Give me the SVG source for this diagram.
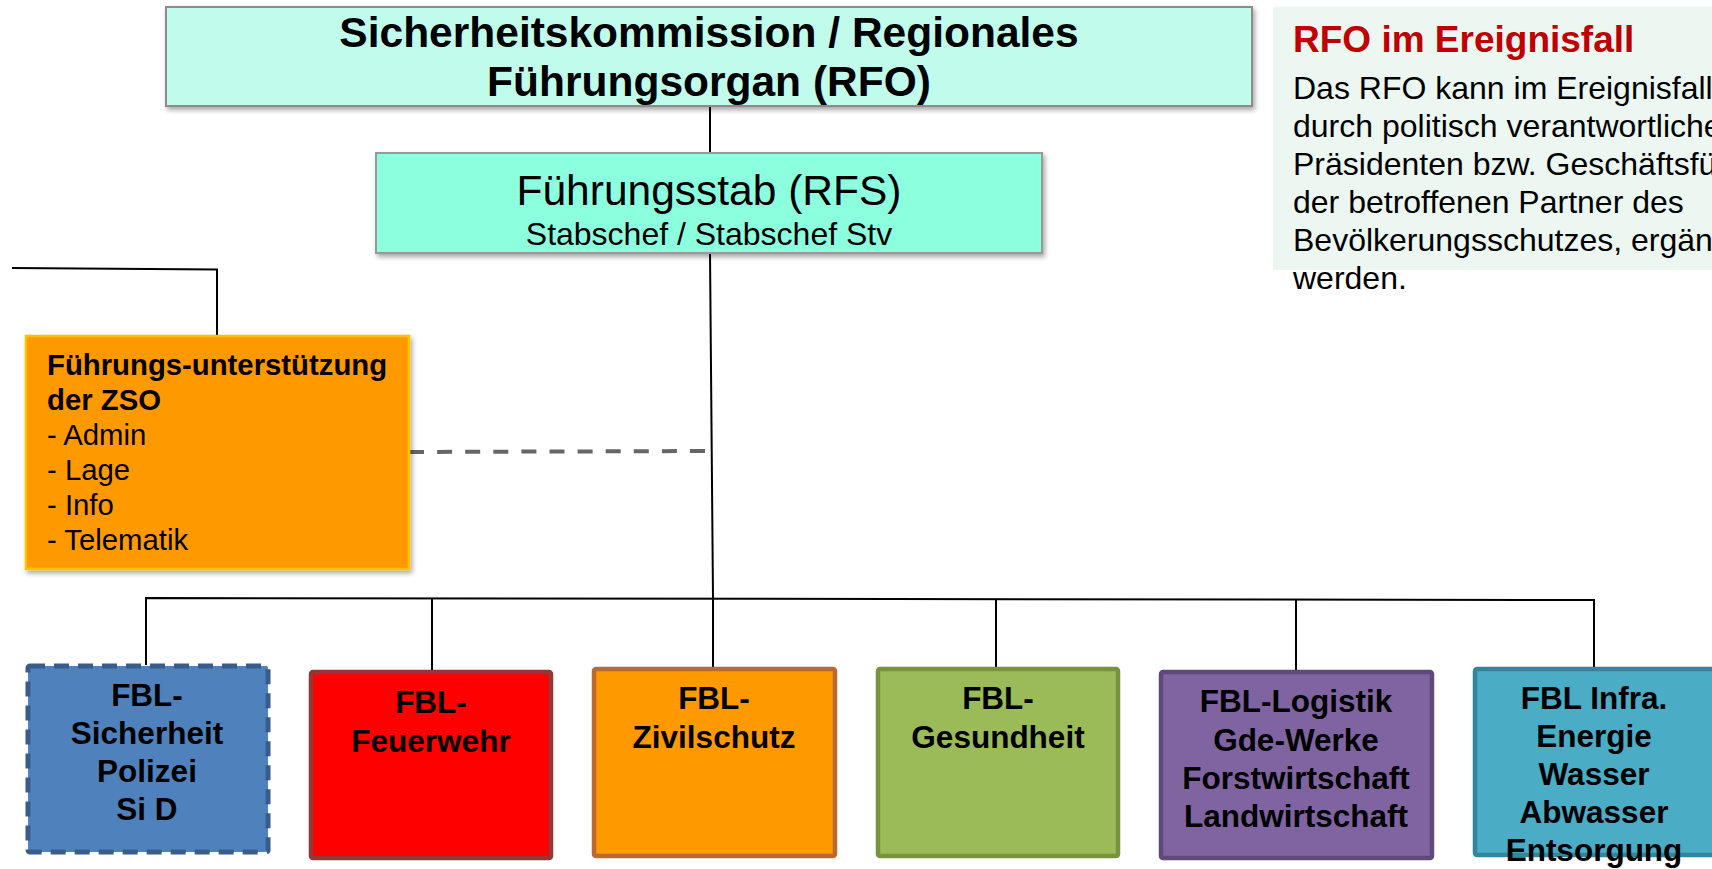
<svg xmlns="http://www.w3.org/2000/svg" width="1712" height="869" viewBox="0 0 1712 869">
<defs>
<filter id="sh" x="-10%" y="-10%" width="130%" height="130%">
<feDropShadow dx="2" dy="3" stdDeviation="2.5" flood-color="#000" flood-opacity="0.35"/>
</filter>
<style>
text{font-family:"Liberation Sans",Arial,sans-serif;fill:#000}
.b{font-weight:bold}
.fbl{font-weight:bold;font-size:31.5px;text-anchor:middle}
.ln{stroke:#000;stroke-width:2;fill:none}
.box{stroke-width:4.5}
.body{font-size:32px}
</style>
</defs>
<rect width="1712" height="869" fill="#fff"/>

<g id="connectors">
<polyline class="ln" points="710,106 710,153"/>
<polyline class="ln" points="710,253 713,598"/>
<polyline class="ln" points="12,268 217,269.5 217,336"/>
<line x1="409" y1="452" x2="705" y2="451" stroke="#666" stroke-width="4" stroke-dasharray="15 13.1"/>
<polyline class="ln" points="146,665 146,598 1594,600 1594,668"/>
<line class="ln" x1="432" y1="598.5" x2="432" y2="671"/>
<line class="ln" x1="713" y1="598" x2="713" y2="668"/>
<line class="ln" x1="996" y1="599" x2="996" y2="668"/>
<line class="ln" x1="1296" y1="599.5" x2="1296" y2="671"/>
</g>

<g id="rfo">
<rect x="166" y="7" width="1086" height="99" fill="#C0FBEB" stroke="#8C8C8C" stroke-width="2" filter="url(#sh)"/>
<text class="b" x="709" y="47" font-size="42.5" text-anchor="middle">Sicherheitskommission / Regionales</text>
<text class="b" x="709" y="96" font-size="42.5" text-anchor="middle">Führungsorgan (RFO)</text>
</g>

<g id="rfs">
<rect x="376" y="153" width="666" height="100" fill="#8CFFDE" stroke="#999" stroke-width="2" filter="url(#sh)"/>
<text x="709" y="205" font-size="42.5" text-anchor="middle">Führungsstab (RFS)</text>
<text x="709" y="245" font-size="32" text-anchor="middle">Stabschef / Stabschef Stv</text>
</g>

<g id="info">
<rect x="1273" y="6.5" width="439" height="263.5" fill="#EDF7F2"/>
<text class="b" x="1293" y="52" font-size="37" style="fill:#C00000">RFO im Ereignisfall</text>
<text class="body" x="1293" y="99">Das RFO kann im Ereignisfall</text>
<text class="body" x="1293" y="137">durch politisch verantwortliche</text>
<text class="body" x="1293" y="175">Präsidenten bzw. Geschäftsfü</text>
<text class="body" x="1293" y="213">der betroffenen Partner des</text>
<text class="body" x="1293" y="251">Bevölkerungsschutzes, ergänz</text>
<text class="body" x="1293" y="289">werden.</text>
</g>

<g id="zso">
<rect x="26" y="336" width="383" height="233" fill="#FF9900" stroke="#FFC000" stroke-width="2.5" filter="url(#sh)"/>
<text class="b" x="47" y="375" font-size="29.3">Führungs-unterstützung</text>
<text class="b" x="47" y="410" font-size="29.3">der ZSO</text>
<text x="47" y="445" font-size="29.3">- Admin</text>
<text x="47" y="480" font-size="29.3">- Lage</text>
<text x="47" y="515" font-size="29.3">- Info</text>
<text x="47" y="550" font-size="29.3">- Telematik</text>
</g>

<g id="fbl-sicherheit">
<rect x="28" y="666" width="240" height="186" rx="2" fill="#4F81BD" stroke="#385D8A" stroke-width="5" stroke-dasharray="15 9"/>
<text class="fbl" x="147" y="706">FBL-</text>
<text class="fbl" x="147" y="744">Sicherheit</text>
<text class="fbl" x="147" y="782">Polizei</text>
<text class="fbl" x="147" y="820">Si D</text>
</g>

<g id="fbl-feuerwehr">
<rect x="311" y="672" width="240" height="186" rx="2" fill="#FF0000" stroke="#953735" class="box"/>
<text class="fbl" x="431" y="713">FBL-</text>
<text class="fbl" x="431" y="752">Feuerwehr</text>
</g>

<g id="fbl-zivilschutz">
<rect x="594" y="669" width="241" height="187" rx="2" fill="#FF9900" stroke="#BA6A2E" class="box"/>
<text class="fbl" x="714" y="709">FBL-</text>
<text class="fbl" x="714" y="748">Zivilschutz</text>
</g>

<g id="fbl-gesundheit">
<rect x="878" y="669" width="240" height="187" rx="2" fill="#9BBB59" stroke="#77933C" class="box"/>
<text class="fbl" x="998" y="709">FBL-</text>
<text class="fbl" x="998" y="748">Gesundheit</text>
</g>

<g id="fbl-logistik">
<rect x="1161" y="672" width="271" height="186" rx="2" fill="#8064A2" stroke="#5F497A" class="box"/>
<text class="fbl" x="1296" y="712">FBL-Logistik</text>
<text class="fbl" x="1296" y="751">Gde-Werke</text>
<text class="fbl" x="1296" y="789">Forstwirtschaft</text>
<text class="fbl" x="1296" y="827">Landwirtschaft</text>
</g>

<g id="fbl-infra">
<rect x="1475" y="669" width="240" height="186" rx="2" fill="#4BACC6" stroke="#31859C" class="box"/>
<text class="fbl" x="1594" y="709">FBL Infra.</text>
<text class="fbl" x="1594" y="747">Energie</text>
<text class="fbl" x="1594" y="785">Wasser</text>
<text class="fbl" x="1594" y="823">Abwasser</text>
<text class="fbl" x="1594" y="861">Entsorgung</text>
</g>
</svg>
